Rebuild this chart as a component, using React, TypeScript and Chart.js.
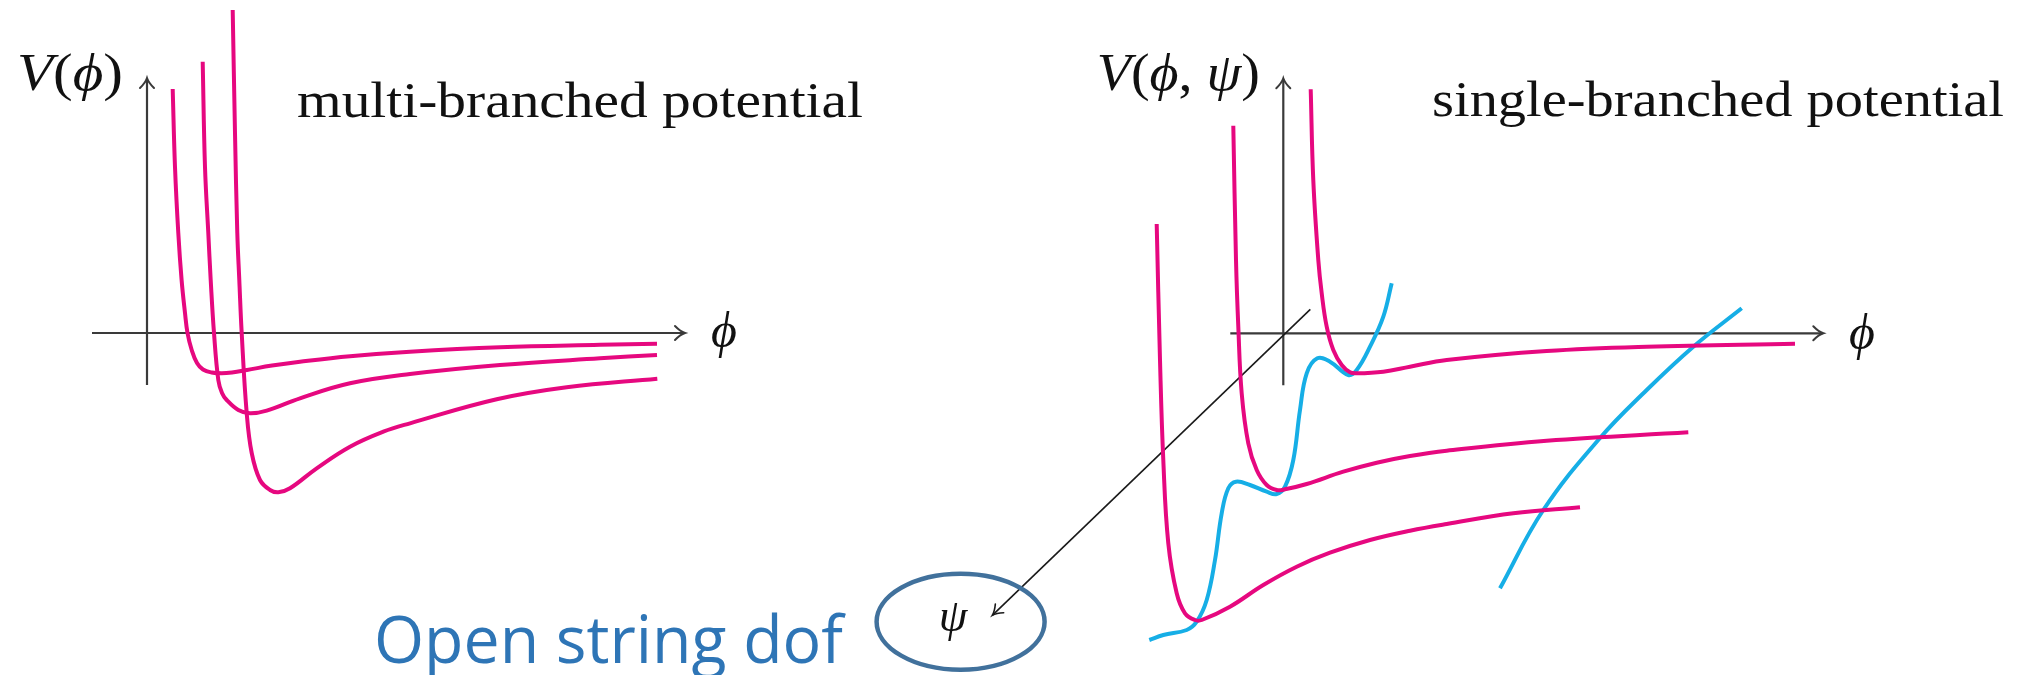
import { useEffect, useRef } from "react";
import { Chart, registerables } from "chart.js";

Chart.register(...registerables);

const W = 2024;
const H = 675;

const PINK = "#e6087f";
const CYAN = "#16aee6";
const AXIS_INK = "#3a3a3a";
const TEXT_INK = "#111111";
const NOTE_BLUE = "#2e75b6";
const BUBBLE_BLUE = "#41719c";

// ---------- multi-branched potential V(ϕ): three separate branches (ϕ, V) ----------
const multiBranchA: [number, number][] = [
  [0.257, 2.44], [0.28, 1.66], [0.313, 1.0], [0.346, 0.53], [0.38, 0.2], [0.405, 0.0],
  [0.447, -0.17], [0.5, -0.3], [0.56, -0.365], [0.647, -0.395], [0.747, -0.403],
  [0.85, -0.395], [1.0, -0.37], [1.25, -0.325], [1.53, -0.287], [2.03, -0.232],
  [2.63, -0.187], [3.53, -0.143], [4.53, -0.118], [5.1, -0.107],
];
const multiBranchB: [number, number][] = [
  [0.557, 2.713], [0.58, 1.66], [0.613, 1.0], [0.637, 0.53], [0.67, 0.0], [0.713, -0.47],
  [0.75, -0.6], [0.797, -0.67], [0.913, -0.77], [1.03, -0.803], [1.197, -0.777],
  [1.53, -0.653], [2.03, -0.503], [2.63, -0.41], [3.53, -0.32], [4.53, -0.253], [5.1, -0.22],
];
const multiBranchC: [number, number][] = [
  [0.857, 3.23], [0.88, 2.0], [0.903, 1.0], [0.923, 0.53], [0.947, 0.0], [0.997, -0.8],
  [1.047, -1.2], [1.13, -1.47], [1.23, -1.57], [1.313, -1.593], [1.43, -1.553],
  [1.697, -1.353], [2.03, -1.137], [2.363, -0.987], [2.63, -0.903], [3.497, -0.663],
  [4.197, -0.543], [5.103, -0.457],
];

// ---------- single-branched potential V(ϕ, ψ): slices at fixed ψ ----------
const sliceNear: [number, number][] = [
  [0.274, 2.44], [0.3, 1.53], [0.35, 0.733], [0.384, 0.4], [0.434, 0.066], [0.5, -0.167],
  [0.584, -0.317], [0.667, -0.39], [0.734, -0.4], [1.0, -0.384], [1.267, -0.334],
  [1.634, -0.267], [2.634, -0.177], [3.634, -0.134], [5.117, -0.104],
];
const sliceMid: [number, number][] = [
  [-0.5, 2.076], [-0.473, 0.733], [-0.45, 0.066], [-0.416, -0.6], [-0.35, -1.1],
  [-0.266, -1.367], [-0.166, -1.517], [-0.066, -1.567], [0.017, -1.56], [0.234, -1.507],
  [0.6, -1.384], [0.934, -1.294], [1.267, -1.227], [1.634, -1.174], [2.634, -1.074],
  [4.05, -0.99],
];
const sliceFar: [number, number][] = [
  [-1.266, 1.093], [-1.233, -0.267], [-1.2, -1.267], [-1.15, -2.1], [-1.066, -2.6],
  [-0.983, -2.8], [-0.883, -2.867], [-0.816, -2.867], [-0.533, -2.734], [-0.2, -2.517],
  [0.134, -2.334], [0.467, -2.194], [0.867, -2.067], [1.267, -1.974], [1.634, -1.907],
  [2.3, -1.8], [2.967, -1.74],
];

// ---------- open-string direction ψ: traces across the slices ----------
const psiTraceMinima: [number, number][] = [
  [-1.34, -3.067], [-1.2, -3.017], [-0.966, -2.967], [-0.866, -2.884], [-0.766, -2.667],
  [-0.683, -2.267], [-0.616, -1.8], [-0.55, -1.55], [-0.473, -1.484], [-0.333, -1.517],
  [-0.166, -1.584], [-0.066, -1.607], [0.017, -1.534], [0.1, -1.267], [0.167, -0.767],
  [0.234, -0.4], [0.34, -0.25], [0.467, -0.284], [0.65, -0.417], [0.734, -0.367],
  [0.867, -0.134], [1.0, 0.166], [1.084, 0.5],
];
const psiTraceTail: [number, number][] = [
  [2.167, -2.55], [2.6, -1.767], [3.167, -1.047], [3.634, -0.567], [4.1, -0.134], [4.584, 0.25],
];

// ---------- axes (data units) ----------
const leftPhiAxis: [number, number] = [-0.55, 5.38];
const leftVAxis: [number, number] = [-0.52, 2.55];
const rightPhiAxis: [number, number] = [-0.53, 5.4];
const rightVAxis: [number, number] = [-0.52, 2.55];
const psiAxisFrom: [number, number] = [0.27, 0.24];
const psiAxisTo: [number, number] = [-2.91, -2.82];

// ---------- layout: visible window of each panel and label anchors ----------
const leftView = { xMin: -1.47, xMax: 18.77, yMin: -3.42, yMax: 3.33 };
const rightView = { xMin: -12.833, xMax: 7.407, yMin: -3.417, yMax: 3.333 };

const psiBubble = { x: -3.227, y: -2.884, rx: 0.84, ry: 0.48 };

type Run = { t: string; italic?: boolean };
type Label = {
  runs: Run[];
  x: number; // left edge (or centre when center = true), data units
  y: number; // baseline, data units
  width?: number; // fitted width, data units
  size: number;
  family: string;
  color: string;
  center?: boolean;
};

const SERIF = "'Liberation Serif', 'DejaVu Serif', serif";
const SANS = "'Open Sans', Lato, 'Noto Sans', sans-serif";

const leftLabels: Label[] = [
  { runs: [{ t: "V", italic: true }, { t: "(" }, { t: "ϕ", italic: true }, { t: ")" }],
    x: -1.3, y: 2.43, width: 1.06, size: 52, family: SERIF, color: TEXT_INK },
  { runs: [{ t: "multi-branched potential" }],
    x: 1.5, y: 2.16, width: 5.66, size: 50, family: SERIF, color: TEXT_INK },
  { runs: [{ t: "ϕ", italic: true }], x: 5.77, y: -0.14, size: 50, family: SERIF,
    color: TEXT_INK, center: true },
];

const rightLabels: Label[] = [
  { runs: [{ t: "V", italic: true }, { t: "(" }, { t: "ϕ", italic: true }, { t: ", " },
    { t: "ψ", italic: true }, { t: ")" }],
    x: -1.866, y: 2.433, width: 1.633, size: 52, family: SERIF, color: TEXT_INK },
  { runs: [{ t: "single-branched potential" }],
    x: 1.487, y: 2.173, width: 5.72, size: 50, family: SERIF, color: TEXT_INK },
  { runs: [{ t: "ϕ", italic: true }], x: 5.787, y: -0.157, size: 50, family: SERIF,
    color: TEXT_INK, center: true },
  { runs: [{ t: "ψ", italic: true }], x: -3.303, y: -2.977, size: 46, family: SERIF,
    color: TEXT_INK, center: true },
  { runs: [{ t: "Open string dof" }], x: -9.093, y: -3.297, width: 4.69, size: 66,
    family: SANS, color: NOTE_BLUE },
];

// ---------- drawing helpers ----------
function arrowHead(ctx: CanvasRenderingContext2D, tx: number, ty: number,
  fx: number, fy: number, len = 10, half = 7) {
  const a = Math.atan2(ty - fy, tx - fx);
  const ux = Math.cos(a), uy = Math.sin(a);
  const nx = -uy, ny = ux;
  const bx = tx - ux * len, by = ty - uy * len;
  const cx = tx - ux * len * 0.45, cy = ty - uy * len * 0.45;
  ctx.beginPath();
  ctx.moveTo(bx + nx * half, by + ny * half);
  ctx.quadraticCurveTo(cx + nx * half * 0.2, cy + ny * half * 0.2, tx, ty);
  ctx.quadraticCurveTo(cx - nx * half * 0.2, cy - ny * half * 0.2, bx - nx * half, by - ny * half);
  ctx.stroke();
}

function drawLabel(ctx: CanvasRenderingContext2D, chart: Chart, lab: Label) {
  const xs = chart.scales.x, ys = chart.scales.y;
  const fonts = lab.runs.map((r) => `${r.italic ? "italic " : ""}${lab.size}px ${lab.family}`);
  const widths = lab.runs.map((r, i) => {
    ctx.font = fonts[i];
    return ctx.measureText(r.t).width;
  });
  const total = widths.reduce((s, w) => s + w, 0);
  const target = lab.width !== undefined
    ? xs.getPixelForValue(lab.x + lab.width) - xs.getPixelForValue(lab.x)
    : total;
  const sx = target / total;
  let left = xs.getPixelForValue(lab.x);
  if (lab.center) left -= target / 2;
  const base = ys.getPixelForValue(lab.y);
  ctx.save();
  ctx.fillStyle = lab.color;
  ctx.textBaseline = "alphabetic";
  ctx.textAlign = "left";
  ctx.translate(left, base);
  ctx.scale(sx, 1);
  let x = 0;
  lab.runs.forEach((r, i) => {
    ctx.font = fonts[i];
    ctx.fillText(r.t, x, 0);
    x += widths[i];
  });
  ctx.restore();
}

function drawAxes(chart: Chart, phiAxis: [number, number], vAxis: [number, number]) {
  const ctx = chart.ctx;
  const xs = chart.scales.x, ys = chart.scales.y;
  const x0 = xs.getPixelForValue(0), y0 = ys.getPixelForValue(0);
  const xa = xs.getPixelForValue(phiAxis[0]), xb = xs.getPixelForValue(phiAxis[1]);
  const ya = ys.getPixelForValue(vAxis[0]), yb = ys.getPixelForValue(vAxis[1]);
  ctx.save();
  ctx.strokeStyle = AXIS_INK;
  ctx.lineWidth = 2.2;
  ctx.lineCap = "butt";
  ctx.beginPath();
  ctx.moveTo(xa, y0);
  ctx.lineTo(xb - 1, y0);
  ctx.moveTo(x0, ya);
  ctx.lineTo(x0, yb + 1);
  ctx.stroke();
  ctx.lineWidth = 2;
  ctx.lineCap = "round";
  arrowHead(ctx, xb, y0, xa, y0);
  arrowHead(ctx, x0, yb, x0, ya);
  ctx.restore();
}

function makeSeries(points: [number, number][], color: string) {
  return {
    data: points.map(([x, y]) => ({ x, y })),
    borderColor: color,
    backgroundColor: color,
    borderWidth: 4,
    pointRadius: 0,
    pointHoverRadius: 0,
    fill: false,
    tension: 0.4,
    borderCapStyle: "butt" as const,
    borderJoinStyle: "round" as const,
  };
}

function baseOptions(view: { xMin: number; xMax: number; yMin: number; yMax: number }) {
  return {
    responsive: false,
    animation: false as const,
    events: [] as any[],
    layout: { padding: 0 },
    plugins: { legend: { display: false }, tooltip: { enabled: false }, title: { display: false } },
    scales: {
      x: { type: "linear" as const, min: view.xMin, max: view.xMax, display: false },
      y: { type: "linear" as const, min: view.yMin, max: view.yMax, display: false },
    },
  };
}

const multiPanelDecor = {
  id: "multiPanelDecor",
  beforeDatasetsDraw(chart: Chart) {
    drawAxes(chart, leftPhiAxis, leftVAxis);
  },
  afterDatasetsDraw(chart: Chart) {
    leftLabels.forEach((l) => drawLabel(chart.ctx, chart, l));
  },
};

const singlePanelDecor = {
  id: "singlePanelDecor",
  beforeDatasetsDraw(chart: Chart) {
    const ctx = chart.ctx;
    const xs = chart.scales.x, ys = chart.scales.y;
    drawAxes(chart, rightPhiAxis, rightVAxis);
    // ψ direction, pointing to the open-string label
    const fx = xs.getPixelForValue(psiAxisFrom[0]), fy = ys.getPixelForValue(psiAxisFrom[1]);
    const tx = xs.getPixelForValue(psiAxisTo[0]), ty = ys.getPixelForValue(psiAxisTo[1]);
    ctx.save();
    ctx.strokeStyle = "#1a1a1a";
    ctx.lineWidth = 1.6;
    ctx.beginPath();
    ctx.moveTo(fx, fy);
    ctx.lineTo(tx, ty);
    ctx.stroke();
    ctx.lineCap = "round";
    arrowHead(ctx, tx, ty, fx, fy, 10, 6);
    ctx.restore();
  },
  afterDatasetsDraw(chart: Chart) {
    const ctx = chart.ctx;
    const xs = chart.scales.x, ys = chart.scales.y;
    const cx = xs.getPixelForValue(psiBubble.x), cy = ys.getPixelForValue(psiBubble.y);
    const rx = Math.abs(xs.getPixelForValue(psiBubble.x + psiBubble.rx) - cx);
    const ry = Math.abs(ys.getPixelForValue(psiBubble.y + psiBubble.ry) - cy);
    ctx.save();
    ctx.strokeStyle = BUBBLE_BLUE;
    ctx.lineWidth = 4.5;
    ctx.beginPath();
    ctx.ellipse(cx, cy, rx, ry, 0, 0, Math.PI * 2);
    ctx.stroke();
    ctx.restore();
    rightLabels.forEach((l) => drawLabel(ctx, chart, l));
  },
};

export default function App() {
  const leftRef = useRef<HTMLCanvasElement>(null);
  const rightRef = useRef<HTMLCanvasElement>(null);

  useEffect(() => {
    const multi = new Chart(leftRef.current!, {
      type: "line",
      data: {
        datasets: [
          makeSeries(multiBranchA, PINK),
          makeSeries(multiBranchB, PINK),
          makeSeries(multiBranchC, PINK),
        ],
      },
      options: baseOptions(leftView) as any,
      plugins: [multiPanelDecor],
    });
    const single = new Chart(rightRef.current!, {
      type: "line",
      data: {
        datasets: [
          makeSeries(sliceNear, PINK),
          makeSeries(sliceMid, PINK),
          makeSeries(sliceFar, PINK),
          makeSeries(psiTraceMinima, CYAN),
          makeSeries(psiTraceTail, CYAN),
        ],
      },
      options: baseOptions(rightView) as any,
      plugins: [singlePanelDecor],
    });
    return () => {
      multi.destroy();
      single.destroy();
    };
  }, []);

  return (
    <div style={{ position: "absolute", left: 0, top: 0, width: W, height: H, background: "#ffffff", overflow: "hidden" }}>
      <canvas ref={leftRef} width={W} height={H} style={{ position: "absolute", left: 0, top: 0 }} />
      <canvas ref={rightRef} width={W} height={H} style={{ position: "absolute", left: 0, top: 0 }} />
    </div>
  );
}
